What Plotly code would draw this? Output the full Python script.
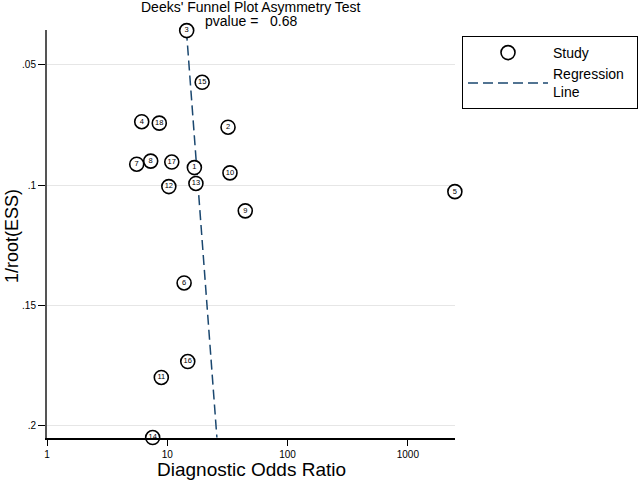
import plotly.graph_objects as go

# ---- data ----
study_ids = [1, 2, 3, 4, 5, 6, 7, 8, 9, 10, 11, 12, 13, 14, 15, 16, 17, 18]
dor = [16.8, 32.0, 14.5, 6.13, 2460, 13.8, 5.57, 7.28, 44.5, 33.2, 8.92, 10.3, 17.3, 7.56, 19.5, 14.8, 10.9, 8.58]
inv_root_ess = [0.0927, 0.0759, 0.0357, 0.0736, 0.1027, 0.1407, 0.0913, 0.0900, 0.1107, 0.0949,
                0.1800, 0.1006, 0.0993, 0.2050, 0.0572, 0.1734, 0.0904, 0.0742]
# regression: log10(DOR) = intercept + slope * 1/root(ESS)
reg_intercept = 1.1058
reg_slope = 1.496
pvalue = "0.68"
x_tickvals = [1, 10, 100, 1000]
x_ticktext = ["1", "10", "100", "1000"]
y_tickvals = [0.05, 0.1, 0.15, 0.2]
y_ticktext = [".05", ".1", ".15", ".2"]

y_line = [min(inv_root_ess), max(inv_root_ess)]
x_line = [10 ** (reg_intercept + reg_slope * v) for v in y_line]

FONT = "Liberation Sans, Arial, sans-serif"
NAVY = "#1a476f"

# plot area in pixels
L, R, T, B = 47, 455, 30, 438
W, H = 638, 480
PH = B - T
PW = R - L

fig = go.Figure()
fig.add_trace(go.Scatter(
    x=x_line, y=y_line, mode="lines", name="Regression\u00a0\u00a0<br>Line",
    line=dict(color=NAVY, width=1.5, dash="10px,5px"), cliponaxis=False, showlegend=True,
    legendrank=2,
))
fig.add_trace(go.Scatter(
    x=dor, y=inv_root_ess, mode="markers", name="Study",
    marker=dict(symbol="circle", size=14, color="white", line=dict(color="black", width=1.6)),
    cliponaxis=False, legendrank=1,
))
fig.add_trace(go.Scatter(
    x=dor, y=inv_root_ess, mode="text", text=[str(s) for s in study_ids],
    textposition="middle center", textfont=dict(size=7.5, color="black", family=FONT),
    showlegend=False, cliponaxis=False, hoverinfo="skip",
))

fig.update_layout(
    width=W, height=H,
    margin=dict(l=L, r=W - R, t=T, b=H - B, autoexpand=False),
    paper_bgcolor="white", plot_bgcolor="white",
    font=dict(family=FONT, color="black"),
    showlegend=True,
    legend=dict(
        xref="container", yref="container",
        x=462 / W, y=1 - 36 / H, xanchor="left", yanchor="top",
        bordercolor="black", borderwidth=1, bgcolor="white",
        font=dict(size=14, family=FONT), itemwidth=80,
        tracegroupgap=2,
    ),
    annotations=[
        dict(text="Deeks' Funnel Plot Asymmetry Test", x=0.5, y=(B - 7.5) / PH,
             xref="paper", yref="paper", xanchor="center", yanchor="middle",
             showarrow=False, font=dict(size=14, family=FONT)),
        dict(text="pvalue =\u00a0\u00a0\u00a0" + pvalue, x=0.5, y=(B - 20.5) / PH,
             xref="paper", yref="paper", xanchor="center", yanchor="middle",
             showarrow=False, font=dict(size=14, family=FONT)),
        dict(text="1/root(ESS)", x=-35 / PW, y=(B - 236) / PH, textangle=-90,
             xref="paper", yref="paper", xanchor="center", yanchor="middle",
             showarrow=False, font=dict(size=18, family=FONT)),
        dict(text="Diagnostic Odds Ratio", x=0.5, y=(B - 469) / PH,
             xref="paper", yref="paper", xanchor="center", yanchor="middle",
             showarrow=False, font=dict(size=19, family=FONT)),
    ],
)

fig.update_xaxes(
    type="log", range=[0, 3.392], automargin=False,
    tickvals=x_tickvals, ticktext=x_ticktext,
    ticks="outside", ticklen=6, tickwidth=1, tickcolor="black",
    showline=True, linecolor="black", linewidth=1.5,
    showgrid=False, zeroline=False,
    tickfont=dict(size=10, family=FONT),
)
fig.update_yaxes(
    range=[0.2052, 0.03545], automargin=False,
    tickvals=y_tickvals, ticktext=y_ticktext,
    ticks="outside", ticklen=7, tickwidth=1, tickcolor="black",
    showline=True, linecolor="#555555", linewidth=2,
    showgrid=True, gridcolor="#e6e6e6", gridwidth=1, zeroline=False,
    tickfont=dict(size=10, family=FONT),
)

fig.write_html("out.html", config={"displayModeBar": False},
               post_script="document.body.style.margin='0px';")
